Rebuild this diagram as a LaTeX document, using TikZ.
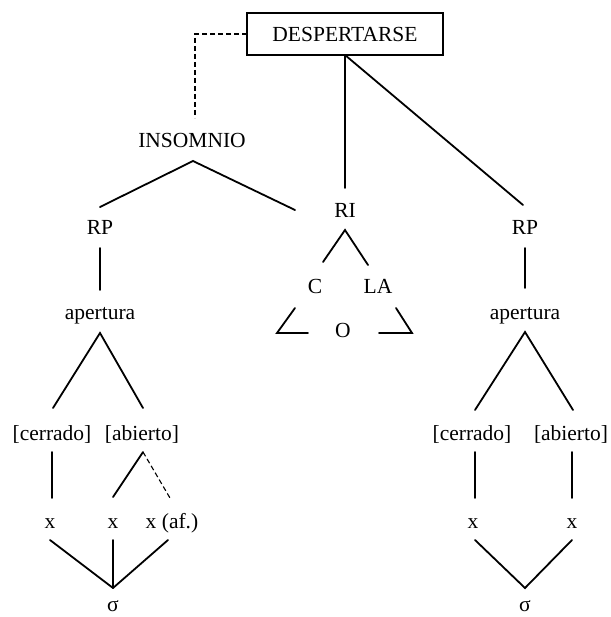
\documentclass[tikz,border=0pt]{standalone}
\usepackage{fontspec}
\setmainfont{Liberation Serif}
\begin{document}
\begin{tikzpicture}[x=1pt,y=-1pt,
  lbl/.style={inner sep=0pt,anchor=base,font=\fontsize{21.5}{25}\selectfont},
  edge/.style={line width=1.8pt,line cap=round,line join=miter},
  dedge/.style={line width=1.1pt,dash pattern=on 5pt off 3pt}]
\useasboundingbox (0,0) rectangle (610,617);
% box
\node[draw,line width=1.8pt,minimum width=196pt,minimum height=42pt,inner sep=0pt] (box) at (345,34) {};
\node[lbl] (desp) at (345,42) {DESPERTARSE};
% text nodes
\node[lbl] (ins) at (192,148) {INSOMNIO};
\node[lbl] (ri) at (345,218) {RI};
\node[lbl] (rpL) at (100,235) {RP};
\node[lbl] (rpR) at (525,235) {RP};
\node[lbl] (apL) at (100,319) {apertura};
\node[lbl] (apR) at (525,319) {apertura};
\node[lbl] (c) at (315,293) {C};
\node[lbl] (la) at (378,293) {LA};
\node[lbl] (o) at (343,337) {O};
\node[lbl] (ceL) at (52,440) {[cerrado]};
\node[lbl] (abL) at (142,440) {[abierto]};
\node[lbl] (ceR) at (472,440) {[cerrado]};
\node[lbl] (abR) at (571,440) {[abierto]};
\node[lbl] (x1) at (50,528) {x};
\node[lbl] (x2) at (113,528) {x};
\node[lbl] (x3) at (172,528) {x (af.)};
\node[lbl] (x4) at (473,528) {x};
\node[lbl] (x5) at (572,528) {x};
\node[lbl] (sL) at (113,611) {σ};
\node[lbl] (sR) at (525,611) {σ};
% connector end points
\coordinate (boxb) at (345,55);
\coordinate (boxl) at (247,34);
\coordinate (dcor) at (195,34);
\coordinate (dend) at (195,118);
\coordinate (riT) at (345,188);
\coordinate (rpRT) at (523,205);
\coordinate (insA) at (193,161);
\coordinate (insL) at (100,207);
\coordinate (insR) at (295,210);
\coordinate (rpLb) at (100,248);
\coordinate (apLt) at (100,290);
\coordinate (apLa) at (100,333);
\coordinate (ceLt) at (53,408);
\coordinate (abLt) at (143,408);
\coordinate (ceLb) at (52,452);
\coordinate (x1t) at (52,498);
\coordinate (abLb) at (143,452);
\coordinate (x2t) at (113,497);
\coordinate (x3t) at (170,498);
\coordinate (x1b) at (50,540);
\coordinate (x2b) at (113,540);
\coordinate (x3b) at (168,540);
\coordinate (sLt) at (113,588);
\coordinate (riA) at (345,230);
\coordinate (cT) at (323,262);
\coordinate (laT) at (368,265);
\coordinate (tl1) at (295,308);
\coordinate (tl2) at (277,333);
\coordinate (tl3) at (308,333);
\coordinate (tr1) at (396,308);
\coordinate (tr2) at (412,333);
\coordinate (tr3) at (379,333);
\coordinate (rpRb) at (525,248);
\coordinate (apRt) at (525,288);
\coordinate (apRa) at (525,332);
\coordinate (ceRt) at (475,410);
\coordinate (abRt) at (573,410);
\coordinate (ceRb) at (475,452);
\coordinate (x4t) at (475,498);
\coordinate (abRb) at (572,452);
\coordinate (x5t) at (572,498);
\coordinate (x4b) at (475,540);
\coordinate (x5b) at (572,540);
\coordinate (sRt) at (525,588);
% connectors
\draw[edge] (boxb) -- (riT);
\draw[edge] (boxb) -- (rpRT);
\draw[dedge] (boxl) -- (dcor) -- (dend);
\draw[edge] (insL) -- (insA) -- (insR);
\draw[edge] (rpLb) -- (apLt);
\draw[edge] (ceLt) -- (apLa) -- (abLt);
\draw[edge] (ceLb) -- (x1t);
\draw[edge] (abLb) -- (x2t);
\draw[dedge] (abLb) -- (x3t);
\draw[edge] (x1b) -- (sLt);
\draw[edge] (x2b) -- (sLt);
\draw[edge] (x3b) -- (sLt);
\draw[edge] (cT) -- (riA) -- (laT);
\draw[edge] (tl1) -- (tl2) -- (tl3);
\draw[edge] (tr1) -- (tr2) -- (tr3);
\draw[edge] (rpRb) -- (apRt);
\draw[edge] (ceRt) -- (apRa) -- (abRt);
\draw[edge] (ceRb) -- (x4t);
\draw[edge] (abRb) -- (x5t);
\draw[edge] (x4b) -- (sRt) -- (x5b);
\end{tikzpicture}
\end{document}
